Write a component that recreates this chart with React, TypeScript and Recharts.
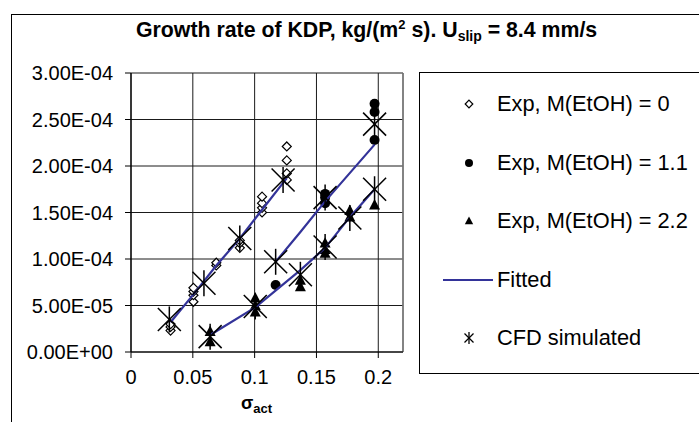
import React from 'react';
import { ScatterChart, Scatter, XAxis, YAxis, CartesianGrid, ReferenceLine } from 'recharts';

// sigma_act axis and growth-rate axis
const X_TICKS = [0, 0.05, 0.1, 0.15, 0.2];
const Y_TICKS = [0, 5e-5, 1e-4, 1.5e-4, 2e-4, 2.5e-4, 3e-4];

// experiments, [sigma_act, growth rate kg/(m2 s)]
const EXP_M0: [number, number][] = [
  [0.032, 2.3e-5], [0.032, 2.7e-5], [0.032, 3.0e-5],
  [0.0505, 5.4e-5], [0.0505, 6.1e-5], [0.0505, 6.5e-5], [0.0505, 6.9e-5],
  [0.069, 9.3e-5], [0.069, 9.6e-5],
  [0.088, 1.12e-4], [0.088, 1.17e-4], [0.088, 1.2e-4],
  [0.106, 1.5e-4], [0.106, 1.55e-4], [0.106, 1.6e-4], [0.106, 1.67e-4],
  [0.126, 1.85e-4], [0.126, 1.92e-4], [0.126, 2.06e-4], [0.126, 2.21e-4],
];
const EXP_M11: [number, number][] = [
  [0.117, 7.2e-5],
  [0.157, 1.6e-4], [0.157, 1.66e-4], [0.157, 1.7e-4],
  [0.197, 2.28e-4], [0.197, 2.58e-4], [0.197, 2.67e-4],
];
const EXP_M22: [number, number][] = [
  [0.064, 1.1e-5], [0.064, 2.2e-5],
  [0.1005, 4.3e-5], [0.1005, 5.0e-5], [0.1005, 5.8e-5],
  [0.137, 7.0e-5], [0.137, 7.7e-5],
  [0.157, 1.06e-4], [0.157, 1.1e-4], [0.157, 1.17e-4],
  [0.177, 1.45e-4], [0.177, 1.52e-4],
  [0.197, 1.58e-4],
];

// fitted curves
const FIT_M0: [number, number][] = [
  [0.032, 3.2e-5], [0.0505, 6.2e-5], [0.069, 9.3e-5], [0.088, 1.22e-4], [0.106, 1.53e-4], [0.126, 1.87e-4],
];
const FIT_M11: [number, number][] = [
  [0.117, 9.7e-5], [0.137, 1.29e-4], [0.157, 1.62e-4], [0.197, 2.23e-4],
];
const FIT_M22: [number, number][] = [
  [0.064, 1.83e-5], [0.1005, 4.8e-5], [0.137, 8.8e-5], [0.157, 1.12e-4], [0.177, 1.45e-4], [0.197, 1.75e-4],
];

// CFD results
const CFD: [number, number][] = [
  [0.031, 3.5e-5], [0.059, 7.4e-5], [0.088, 1.22e-4], [0.123, 1.85e-4],
  [0.117, 9.7e-5], [0.157, 1.66e-4], [0.197, 2.45e-4],
  [0.064, 1.65e-5], [0.1005, 4.9e-5], [0.137, 8.3e-5], [0.157, 1.13e-4], [0.177, 1.44e-4], [0.197, 1.75e-4],
];

const LEGEND_ROWS = ['Exp, M(EtOH) = 0', 'Exp, M(EtOH) = 1.1', 'Exp, M(EtOH) = 2.2', 'Fitted', 'CFD simulated'];

const FONT = '"Liberation Sans", Arial, sans-serif';
const FIT_COLOR = '#333399';

const pts = (a: [number, number][]) => a.map(([x, y]) => ({ x, y }));

function sci(v: number) {
  if (v === 0) return '0.00E+00';
  const [m, e] = v.toExponential(2).split('e');
  const n = parseInt(e, 10);
  return `${m}E${n < 0 ? '-' : '+'}${String(Math.abs(n)).padStart(2, '0')}`;
}

const Diamond = ({ cx, cy, r = 4.5 }: any) => (
  <polygon
    points={`${cx},${cy - r} ${cx + r},${cy} ${cx},${cy + r} ${cx - r},${cy}`}
    fill="#fff"
    stroke="#000"
    strokeWidth={1.2}
  />
);

const Dot = ({ cx, cy, r = 5 }: any) => <circle cx={cx} cy={cy} r={r} fill="#000" />;

const Tri = ({ cx, cy, s = 5.5 }: any) => (
  <polygon points={`${cx},${cy - s * 1.1} ${cx + s},${cy + s * 0.8} ${cx - s},${cy + s * 0.8}`} fill="#000" />
);

const Star = ({ cx, cy, d = 11.5, v = 13, w = 1.5 }: any) => (
  <g stroke="#000" strokeWidth={w}>
    <line x1={cx - d} y1={cy - d} x2={cx + d} y2={cy + d} />
    <line x1={cx - d} y1={cy + d} x2={cx + d} y2={cy - d} />
    <line x1={cx} y1={cy - v} x2={cx} y2={cy + v} />
  </g>
);

const NoMark = () => <g />;

function LegendMark({ i }: { i: number }) {
  const c = 9;
  if (i === 3) {
    return (
      <svg width={52} height={18} style={{ position: 'absolute', left: 23, top: -9 }}>
        <line x1={0} y1={9} x2={50} y2={9} stroke={FIT_COLOR} strokeWidth={2} />
      </svg>
    );
  }
  return (
    <svg width={18} height={18} style={{ position: 'absolute', left: 40, top: -9 }}>
      {i === 0 && <Diamond cx={c} cy={c} r={3.8} />}
      {i === 1 && <Dot cx={c} cy={c} r={4} />}
      {i === 2 && <Tri cx={c} cy={c} s={4.2} />}
      {i === 4 && <Star cx={c} cy={c} d={4.5} v={6} w={1.3} />}
    </svg>
  );
}

export default function App() {
  const tick = { fill: '#000', fontSize: 20, fontFamily: FONT };
  return (
    <div
      style={{
        position: 'fixed',
        left: 0,
        top: 0,
        width: 699,
        height: 422,
        overflow: 'hidden',
        background: '#fff',
        fontFamily: FONT,
      }}
    >
      {/* chart frame */}
      <div
        style={{
          position: 'absolute',
          left: 11,
          top: 14,
          width: 720,
          height: 440,
          border: '1px solid #000',
        }}
      />

      <div
        style={{
          position: 'absolute',
          left: 136,
          top: 18,
          fontSize: 21.3,
          fontWeight: 'bold',
          whiteSpace: 'nowrap',
          lineHeight: '24px',
        }}
      >
        Growth rate of KDP, kg/(m
        <span style={{ fontSize: 13, position: 'relative', top: -8 }}>2</span> s). U
        <span style={{ fontSize: 14, position: 'relative', top: 4 }}>slip</span> = 8.4 mm/s
      </div>

      <div style={{ position: 'absolute', left: 0, top: 0 }}>
        <ScatterChart width={699} height={422} margin={{ top: 73, right: 296, bottom: 40, left: 0 }}>
          <CartesianGrid stroke="#1a1a1a" strokeWidth={1} />
          <XAxis
            type="number"
            dataKey="x"
            domain={[0, 0.22]}
            ticks={X_TICKS}
            allowDataOverflow
            tick={tick}
            tickFormatter={(v: number) => String(v)}
            axisLine={{ stroke: '#000', strokeWidth: 1.2 }}
            tickLine={{ stroke: '#000' }}
            tickSize={6}
            tickMargin={12}
            height={30}
          />
          <YAxis
            type="number"
            dataKey="y"
            domain={[0, 3e-4]}
            ticks={Y_TICKS}
            allowDataOverflow
            tick={tick}
            tickFormatter={sci}
            axisLine={{ stroke: '#000', strokeWidth: 1.2 }}
            tickLine={{ stroke: '#000' }}
            tickSize={6}
            tickMargin={12}
            width={131}
          />
          <ReferenceLine x={0.22} stroke="#808080" strokeWidth={1.5} />
          <Scatter data={pts(EXP_M0)} shape={Diamond} isAnimationActive={false} />
          <Scatter data={pts(EXP_M11)} shape={Dot} isAnimationActive={false} />
          <Scatter data={pts(EXP_M22)} shape={Tri} isAnimationActive={false} />
          {[FIT_M0, FIT_M11, FIT_M22].map((f, i) => (
            <Scatter
              key={i}
              data={pts(f)}
              line={{ stroke: FIT_COLOR, strokeWidth: 2.2 }}
              lineType="joint"
              shape={NoMark}
              isAnimationActive={false}
            />
          ))}
          <Scatter data={pts(CFD)} shape={Star} isAnimationActive={false} />
        </ScatterChart>
      </div>

      <div
        style={{
          position: 'absolute',
          left: 241,
          top: 393,
          fontSize: 18,
          fontWeight: 'bold',
          whiteSpace: 'nowrap',
        }}
      >
        σ<span style={{ fontSize: 13, position: 'relative', top: 4 }}>act</span>
      </div>

      {/* legend */}
      <div
        style={{
          position: 'absolute',
          left: 419,
          top: 72,
          width: 320,
          height: 300,
          border: '1px solid #000',
        }}
      >
        {LEGEND_ROWS.map((label, i) => (
          <div key={label} style={{ position: 'absolute', left: 0, top: 31 + i * 58.5 }}>
            <LegendMark i={i} />
            <div
              style={{
                position: 'absolute',
                left: 77,
                top: -12,
                fontSize: 21.8,
                lineHeight: '24px',
                whiteSpace: 'nowrap',
              }}
            >
              {label}
            </div>
          </div>
        ))}
      </div>
    </div>
  );
}
